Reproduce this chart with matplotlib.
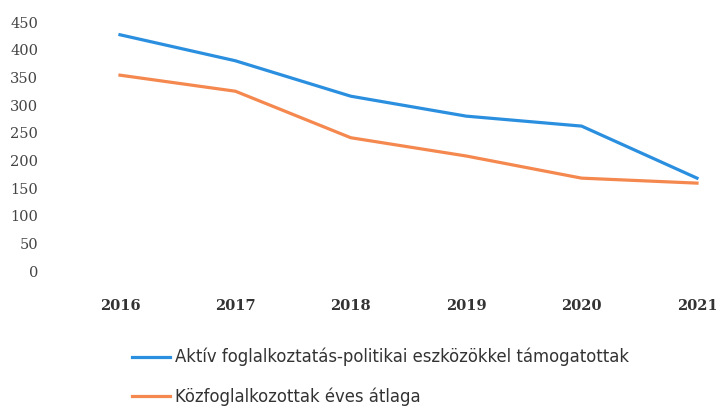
import matplotlib.pyplot as plt
from matplotlib.lines import Line2D

years = [2016, 2017, 2018, 2019, 2020, 2021]
aktiv = [427, 380, 316, 280, 262, 168]
kozfog = [354, 325, 241, 208, 168, 159]
labels = ['Aktív foglalkoztatás-politikai eszközökkel támogatottak',
          'Közfoglalkozottak éves átlaga']
colors = ['#2B8FE0', '#F4884E']

fig = plt.figure(figsize=(7.16, 4.07), dpi=100)
ax = fig.add_axes([55 / 716, 1 - 285 / 407, (712 - 55) / 716, (285 - 10) / 407])

ax.plot(years, aktiv, color=colors[0], lw=2.3)
ax.plot(years, kozfog, color=colors[1], lw=2.3)

ax.set_xlim(2015.437, 2021.13)
ax.set_ylim(-25, 471.7)
ax.set_yticks(range(0, 451, 50))
ax.set_xticks(years)
ax.set_xticklabels([str(y) for y in years], family='DejaVu Serif', fontweight='bold',
                   fontsize=10.5, color='#333333')
ax.set_yticklabels([str(v) for v in range(0, 451, 50)], family='DejaVu Serif',
                   fontsize=10.5, color='#444444')
ax.tick_params(length=0)
ax.tick_params(axis='x', pad=10)
ax.tick_params(axis='y', pad=12)
for s in ax.spines.values():
    s.set_visible(False)

handles = [Line2D([], [], color=c, lw=2.3) for c in colors]
fig.legend(handles, labels, loc='upper left', bbox_to_anchor=(117 / 716, 1 - 333 / 407),
           frameon=False, ncol=1, handlelength=2.3, handletextpad=0.3, labelspacing=1.25,
           prop={'family': 'DejaVu Sans', 'size': 11.9},
           labelcolor='#333333')

fig.savefig('out.png', dpi=100)
